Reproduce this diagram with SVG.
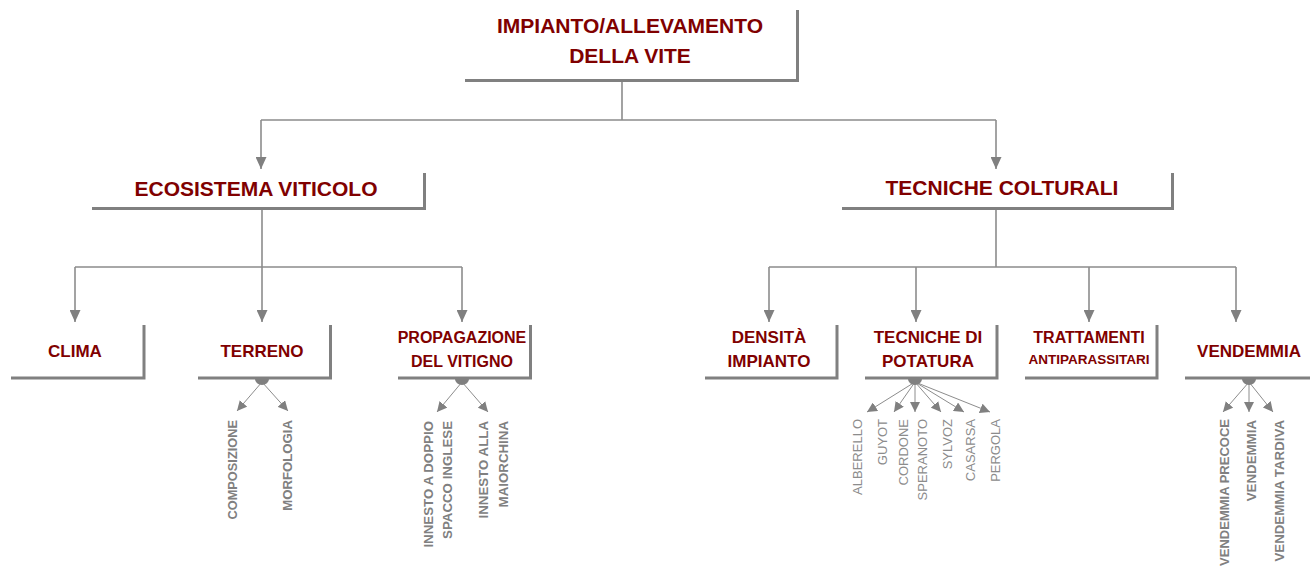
<svg xmlns="http://www.w3.org/2000/svg" width="1310" height="569" viewBox="0 0 1310 569">
<defs>
<style>
.box{fill:none;stroke:#808080;stroke-width:3}
.t{font-family:"Liberation Sans",Arial,sans-serif;font-weight:bold;fill:#800000;text-anchor:middle}
.c{fill:none;stroke:#8c8c8c;stroke-width:1.6}
.s{fill:none;stroke:#8c8c8c;stroke-width:1}
.lb{font-family:"Liberation Sans",Arial,sans-serif;font-weight:bold;fill:#808080;text-anchor:end}
.ln{font-family:"Liberation Sans",Arial,sans-serif;fill:#8c8c8c;text-anchor:end;font-size:13px}
.dot{fill:#808080}
</style>
<marker id="ab" viewBox="0 0 10 10" refX="10" refY="5" markerUnits="userSpaceOnUse" markerWidth="12" markerHeight="11" preserveAspectRatio="none" orient="auto"><path d="M0,0 L10,5 L0,10 z" fill="#808080"/></marker>
<marker id="as" viewBox="0 0 10 10" refX="10" refY="5" markerUnits="userSpaceOnUse" markerWidth="10" markerHeight="10" preserveAspectRatio="none" orient="auto"><path d="M0,0 L10,5 L0,10 z" fill="#808080"/></marker>
</defs>
<rect width="1310" height="569" fill="#fff"/>

<g id="connectors">
<path class="c" d="M622,82 V120 M261,120 H996"/>
<path class="c" d="M261,120 V169" marker-end="url(#ab)"/>
<path class="c" d="M996,120 V169" marker-end="url(#ab)"/>
<path class="c" d="M262,210 V267 M75,267 H462"/>
<path class="c" d="M75,267 V322" marker-end="url(#ab)"/>
<path class="c" d="M262,267 V322" marker-end="url(#ab)"/>
<path class="c" d="M462,267 V322" marker-end="url(#ab)"/>
<path class="c" d="M996,210 V267 M769,267 H1236"/>
<path class="c" d="M769,267 V322" marker-end="url(#ab)"/>
<path class="c" d="M916,267 V322" marker-end="url(#ab)"/>
<path class="c" d="M1089,267 V322" marker-end="url(#ab)"/>
<path class="c" d="M1236,267 V322" marker-end="url(#ab)"/>
<path class="s" d="M262,382 L237,411" marker-end="url(#as)"/>
<path class="s" d="M262,382 L288,411" marker-end="url(#as)"/>
<path class="s" d="M462,382 L437,412" marker-end="url(#as)"/>
<path class="s" d="M462,382 L488,412" marker-end="url(#as)"/>
<path class="s" d="M915,382 L867,412" marker-end="url(#as)"/>
<path class="s" d="M915,382 L894,412" marker-end="url(#as)"/>
<path class="s" d="M915,382 L915,412" marker-end="url(#as)"/>
<path class="s" d="M915,382 L941,412" marker-end="url(#as)"/>
<path class="s" d="M915,382 L964,412" marker-end="url(#as)"/>
<path class="s" d="M915,382 L990,412" marker-end="url(#as)"/>
<path class="s" d="M1249,382 L1223,412" marker-end="url(#as)"/>
<path class="s" d="M1249,382 L1249,412" marker-end="url(#as)"/>
<path class="s" d="M1249,382 L1273,412" marker-end="url(#as)"/>
</g>

<g id="root">
<path class="box" d="M465,80.5 H797.5 V10"/>
<text class="t" font-size="21" x="630" y="33">IMPIANTO/ALLEVAMENTO</text>
<text class="t" font-size="21" x="630" y="63">DELLA VITE</text>
</g>

<g id="ecosistema">
<path class="box" d="M92,208.5 H424.5 V173"/>
<text class="t" font-size="21" x="256" y="196">ECOSISTEMA VITICOLO</text>
</g>

<g id="tecniche-colturali">
<path class="box" d="M842,208.5 H1172.5 V173"/>
<text class="t" font-size="21" x="1002" y="195">TECNICHE COLTURALI</text>
</g>

<g id="clima">
<path class="box" d="M11,378 H144 V325"/>
<text class="t" font-size="17" x="75" y="357">CLIMA</text>
</g>

<g id="terreno">
<path class="box" d="M198,378 H330.5 V325"/>
<text class="t" font-size="17" x="262" y="357">TERRENO</text>
<path class="dot" d="M255,379 A7,6 0 0 0 269,379 Z"/>
</g>

<g id="propagazione">
<path class="box" d="M398,378 H530.5 V325"/>
<text class="t" font-size="16" x="462" y="343">PROPAGAZIONE</text>
<text class="t" font-size="16" x="462" y="367">DEL VITIGNO</text>
<path class="dot" d="M455,379 A7,6 0 0 0 469,379 Z"/>
</g>

<g id="densita">
<path class="box" d="M705,378 H837 V325"/>
<text class="t" font-size="17" x="769" y="343">DENSITÀ</text>
<text class="t" font-size="17" x="769" y="367">IMPIANTO</text>
</g>

<g id="potatura">
<path class="box" d="M865,378 H997 V325"/>
<text class="t" font-size="17" x="928" y="343">TECNICHE DI</text>
<text class="t" font-size="17" x="928" y="367">POTATURA</text>
<path class="dot" d="M908,379 A7,6 0 0 0 922,379 Z"/>
</g>

<g id="trattamenti">
<path class="box" d="M1025,378 H1157 V325"/>
<text class="t" font-size="16" x="1089" y="343">TRATTAMENTI</text>
<text class="t" font-size="13.5" x="1089" y="364">ANTIPARASSITARI</text>
</g>

<g id="vendemmia">
<path class="box" d="M1185,378 H1312"/>
<text class="t" font-size="17" x="1249" y="357">VENDEMMIA</text>
<path class="dot" d="M1242,379 A7,6 0 0 0 1256,379 Z"/>
</g>

<g id="leaves-terreno">
<text class="lb" font-size="12.8" transform="translate(237,420) rotate(-90)">COMPOSIZIONE</text>
<text class="lb" font-size="13.2" transform="translate(292,420) rotate(-90)">MORFOLOGIA</text>
</g>

<g id="leaves-propagazione">
<text class="lb" font-size="13.3" transform="translate(433,421) rotate(-90)">INNESTO A DOPPIO</text>
<text class="lb" font-size="13.3" transform="translate(452,421) rotate(-90)">SPACCO INGLESE</text>
<text class="lb" font-size="13.3" transform="translate(488,421) rotate(-90)">INNESTO ALLA</text>
<text class="lb" font-size="13.3" transform="translate(508,421) rotate(-90)">MAIORCHINA</text>
</g>

<g id="leaves-potatura">
<text class="ln" transform="translate(862,419) rotate(-90)">ALBERELLO</text>
<text class="ln" transform="translate(887,419) rotate(-90)">GUYOT</text>
<text class="ln" transform="translate(908,419) rotate(-90)">CORDONE</text>
<text class="ln" transform="translate(927,419) rotate(-90)">SPERANOTO</text>
<text class="ln" transform="translate(952,419) rotate(-90)">SYLVOZ</text>
<text class="ln" transform="translate(975,419) rotate(-90)">CASARSA</text>
<text class="ln" transform="translate(1000,419) rotate(-90)">PERGOLA</text>
</g>

<g id="leaves-vendemmia">
<text class="lb" font-size="13" transform="translate(1229,419) rotate(-90)">VENDEMMIA PRECOCE</text>
<text class="lb" font-size="13.3" transform="translate(1256,420) rotate(-90)">VENDEMMIA</text>
<text class="lb" font-size="13.3" transform="translate(1284,420) rotate(-90)">VENDEMMIA TARDIVA</text>
</g>
</svg>
